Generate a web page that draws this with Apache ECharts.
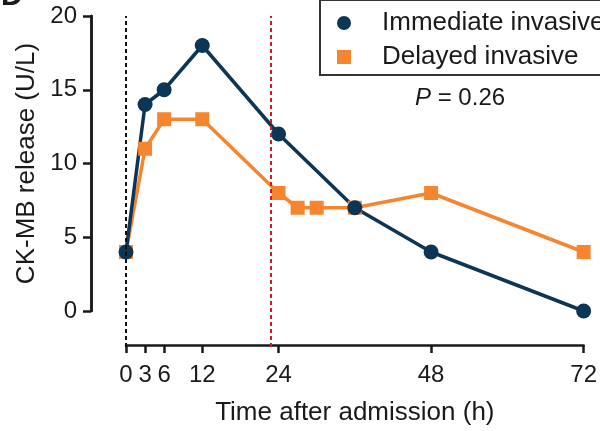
<!DOCTYPE html>
<html>
<head>
<meta charset="utf-8">
<script src="https://cdn.jsdelivr.net/npm/echarts@6/dist/echarts.min.js"></script>
<style>
  html, body { margin: 0; padding: 0; background: #fff; }
  #chart { width: 600px; height: 431px; }
</style>
</head>
<body>
<div id="chart"></div>
<script>
// CK-MB release over time, two groups
const immediateTimes = [0, 3, 6, 12, 24, 36, 48, 72];
const immediateValues = [4, 14, 15, 18, 12, 7, 4, 0];
const delayedTimes = [0, 3, 6, 12, 24, 27, 30, 36, 48, 72];
const delayedValues = [4, 11, 13, 13, 8, 7, 7, 7, 8, 4];
const xTicks = [0, 3, 6, 12, 24, 48, 72];
const admissionTime = 0;
const delayedStartTime = 22.6;

const FONT = 'Liberation Sans, Arial, sans-serif';
const INK = '#1a1a1a';
const NAVY = '#0c3556';
const ORANGE = '#f5852f';

function pairs(xs, ys) {
  return xs.map((x, i) => [x, ys[i]]);
}

const chart = echarts.init(document.getElementById('chart'));

chart.setOption({
  animation: false,
  textStyle: { fontFamily: FONT, color: INK },
  grid: [
    { left: 126, right: 14, top: 16, bottom: 118 },
    // taller grid only for the dashed guide lines, reaching the x axis
    { left: 126, right: 14, top: 16, bottom: 84 },
  ],
  graphic: [
    {
      type: 'text',
      x: 1,
      y: 12,
      style: {
        text: 'D', font: `bold 30px ${FONT}`, fill: INK, verticalAlign: 'bottom',
      },
    },
  ],
  title: {
    left: 415,
    top: 86,
    padding: 0,
    text: '{i|P} = 0.26',
    textStyle: {
      fontSize: 24,
      fontWeight: 'normal',
      color: INK,
      fontFamily: FONT,
      rich: {
        i: { fontSize: 24, fontStyle: 'italic', color: INK, fontFamily: FONT },
      },
    },
  },
  legend: {
    orient: 'vertical',
    left: 320,
    top: 0,
    padding: [8, 40, 3, 17],
    borderColor: '#333',
    borderWidth: 2,
    itemWidth: 14,
    itemHeight: 14,
    itemGap: 4,
    data: [
      { name: 'Immediate invasive', icon: 'circle' },
      { name: 'Delayed invasive', icon: 'rect' },
    ],
    textStyle: {
      fontSize: 26, lineHeight: 30, color: INK, fontFamily: FONT, padding: [0, 0, 0, 26],
    },
  },
  xAxis: [
    {
      gridIndex: 0,
      type: 'value',
      min: 0,
      max: 72,
      offset: 34,
      name: 'Time after admission (h)',
      nameLocation: 'middle',
      nameGap: 55,
      nameTextStyle: { fontSize: 26, color: INK, fontFamily: FONT },
      axisLine: { show: true, onZero: false, lineStyle: { color: INK, width: 2.5 } },
      axisTick: {
        show: true, length: 8, customValues: xTicks, lineStyle: { color: INK, width: 2.5 },
      },
      axisLabel: {
        customValues: xTicks, margin: 18, fontSize: 24, color: INK, fontFamily: FONT,
      },
      splitLine: { show: false },
    },
    {
      gridIndex: 1, type: 'value', min: 0, max: 72, show: false,
    },
  ],
  yAxis: [
    {
      gridIndex: 0,
      type: 'value',
      min: 0,
      max: 20,
      interval: 5,
      offset: 35,
      z: 5,
      name: 'CK-MB release (U/L)',
      nameLocation: 'middle',
      nameGap: 46,
      nameTextStyle: { fontSize: 26, color: INK, fontFamily: FONT },
      axisLine: { show: true, onZero: false, lineStyle: { color: INK, width: 2.5 } },
      axisTick: { show: true, length: 8, lineStyle: { color: INK, width: 2.5 } },
      axisLabel: {
        margin: 14, fontSize: 24, color: INK, fontFamily: FONT,
      },
      splitLine: { show: false },
    },
    {
      gridIndex: 1, type: 'value', min: 0, max: 1, show: false,
    },
    {
      // plain copy of the y axis line, same place
      gridIndex: 0,
      type: 'value',
      position: 'left',
      min: 0,
      max: 20,
      interval: 5,
      offset: 35,
      z: 5,
      axisLine: { show: true, onZero: false, lineStyle: { color: INK, width: 2.5 } },
      axisTick: { show: true, length: 8, lineStyle: { color: INK, width: 2.5 } },
      axisLabel: { show: false },
      splitLine: { show: false },
    },
  ],
  series: [
    {
      name: 'guides',
      type: 'line',
      xAxisIndex: 1,
      yAxisIndex: 1,
      data: [],
      silent: true,
      markLine: {
        silent: true,
        symbol: ['none', 'none'],
        label: { show: false },
        data: [
          { xAxis: admissionTime, lineStyle: { color: '#111', width: 2, type: [4, 3] } },
          { xAxis: delayedStartTime, lineStyle: { color: '#c81e2a', width: 2, type: [4, 3] } },
        ],
      },
    },
    {
      name: 'Delayed invasive',
      type: 'line',
      data: pairs(delayedTimes, delayedValues),
      symbol: 'rect',
      symbolSize: 14,
      lineStyle: { color: ORANGE, width: 3.5 },
      itemStyle: { color: ORANGE },
    },
    {
      name: 'Immediate invasive',
      type: 'line',
      data: pairs(immediateTimes, immediateValues),
      symbol: 'circle',
      symbolSize: 15,
      lineStyle: { color: NAVY, width: 3.5 },
      itemStyle: { color: NAVY },
    },
  ],
});
</script>
</body>
</html>
